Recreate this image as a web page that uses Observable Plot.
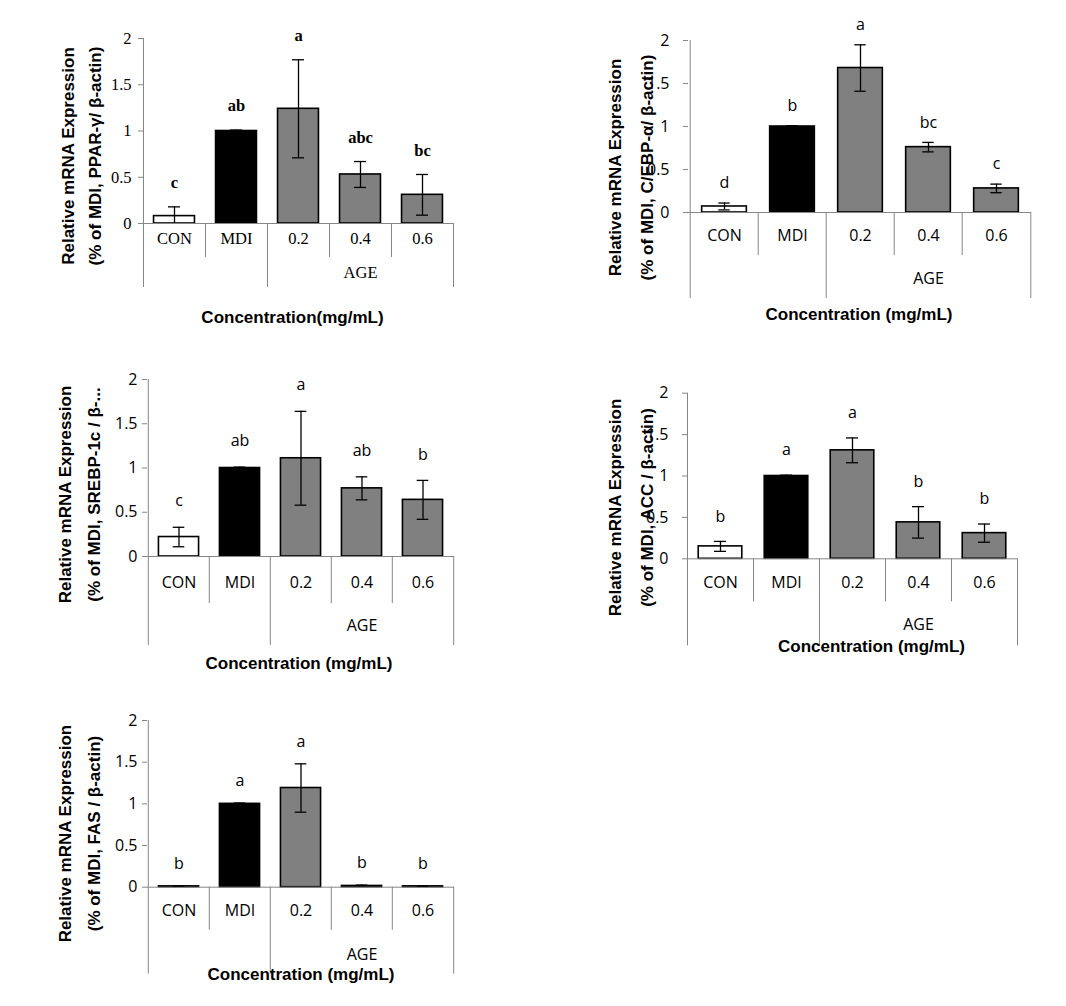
<!DOCTYPE html>
<html><head><meta charset="utf-8">
<script src="https://cdn.jsdelivr.net/npm/d3@7"></script>
<script src="https://cdn.jsdelivr.net/npm/@observablehq/plot@0.6"></script>
<style>
body{margin:0;background:#fff;}
#root{position:relative;width:1066px;height:1006px;background:#fff;}
.panel{position:absolute;}
</style></head><body><div id="root"></div>
<script>
// ---- data ----
const categories = ["CON", "MDI", "0.2", "0.4", "0.6"];
const groups = ["", "", "AGE", "AGE", "AGE"];
const treatment = ["control", "MDI", "AGE", "AGE", "AGE"];
const yTicks = [0, 0.5, 1, 1.5, 2];
const yTickLabels = ["0", "0.5", "1", "1.5", "2"];
const yTitleTop = "Relative mRNA Expression";

const pparMean = [0.08, 1.00, 1.24, 0.53, 0.31];
const pparErr = [0.10, 0.01, 0.53, 0.14, 0.22];
const pparLetters = ["c", "ab", "a", "abc", "bc"];

const cebpMean = [0.07, 1.00, 1.68, 0.76, 0.28];
const cebpErr = [0.04, 0.01, 0.27, 0.055, 0.05];
const cebpLetters = ["d", "b", "a", "bc", "c"];

const srebpMean = [0.22, 1.00, 1.11, 0.77, 0.64];
const srebpErr = [0.11, 0.01, 0.53, 0.13, 0.22];
const srebpLetters = ["c", "ab", "a", "ab", "b"];

const accMean = [0.15, 1.00, 1.31, 0.44, 0.31];
const accErr = [0.06, 0.01, 0.15, 0.19, 0.11];
const accLetters = ["b", "a", "a", "b", "b"];

const fasMean = [0.01, 1.00, 1.19, 0.015, 0.01];
const fasErr = [0.004, 0.01, 0.29, 0.01, 0.004];
const fasLetters = ["b", "a", "a", "b", "b"];

const yTitles = ["(% of MDI, PPAR-γ/ β-actin)", "(% of MDI, C/EBP-α/ β-actin)", "(% of MDI, SREBP-1c / β-...", "(% of MDI, ACC / β-actin)", "(% of MDI, FAS / β-actin)"];
const xTitles = ["Concentration(mg/mL)", "Concentration (mg/mL)", "Concentration (mg/mL)", "Concentration (mg/mL)", "Concentration (mg/mL)"];

const series = [
  [pparMean, pparErr, pparLetters],
  [cebpMean, cebpErr, cebpLetters],
  [srebpMean, srebpErr, srebpLetters],
  [accMean, accErr, accLetters],
  [fasMean, fasErr, fasLetters]
];

// ---- layout (positions / styles) ----
const SERIF = "'Liberation Serif', 'Times New Roman', serif";
const SANS = "'Open Sans', 'Noto Sans', sans-serif";
const BOLD = "'Liberation Sans', Arial, sans-serif";
const layouts = [
  {left: 0, top: 0, width: 520, height: 335, mt: 38, mb: 112, ml: 143, mr: 67, tier1: 34, tier2: 64, catDy: 20, groupDy: 54, titleDy: 99, titleDx: -6, ylDx: -65, ylDy: 25, ylLH: 1.6, tickPad: 7, letterDy: -24, font: SERIF, fs: 16.5, letterWeight: "bold"},
  {left: 560, top: 0, width: 500, height: 335, mt: 40, mb: 123, ml: 128, mr: 29, tier1: 43, tier2: 86, catDy: 28, groupDy: 71, titleDy: 107, titleDx: -1, ylDx: -62, ylDy: 41, ylLH: 1.9, tickPad: 14, letterDy: -20, font: SANS, fs: 16, letterWeight: "normal"},
  {left: 0, top: 340, width: 520, height: 340, mt: 39, mb: 124, ml: 147, mr: 66, tier1: 47, tier2: 89, catDy: 31, groupDy: 74, titleDy: 112, titleDx: -2, ylDx: -71, ylDy: 26.5, ylLH: 1.65, tickPad: 5, letterDy: -26, font: SANS, fs: 16, letterWeight: "normal"},
  {left: 560, top: 340, width: 500, height: 340, mt: 52.7, mb: 121.7, ml: 127, mr: 43, tier1: 43, tier2: 87, catDy: 29, groupDy: 71, titleDy: 93, titleDx: 19, ylDx: -61, ylDy: 31.5, ylLH: 1.9, tickPad: 14, letterDy: -25, font: SANS, fs: 16, letterWeight: "normal"},
  {left: 0, top: 680, width: 520, height: 326, mt: 40, mb: 119.3, ml: 147, mr: 66, tier1: 43, tier2: 87, catDy: 29, groupDy: 73, titleDy: 93, titleDx: 0, ylDx: -71, ylDy: 29.7, ylLH: 1.65, tickPad: 5, letterDy: -22, font: SANS, fs: 16, letterWeight: "normal"}
];

const AXIS = "#868686";
const root = document.getElementById("root");

series.forEach(([mean, err, letters], p) => {
  const L = layouts[p];
  const data = categories.map((c, i) => ({cat: c, mean: mean[i], err: err[i], letter: letters[i], fillKey: treatment[i]}));
  const bw = (L.width - L.ml - L.mr) / categories.length;
  const inset = bw * 0.17;
  const capW = 12;
  const longLeft = categories.filter((c, i) => i === 0 || groups[i] !== groups[i - 1]);
  const shortLeft = categories.filter((c, i) => i > 0 && groups[i] === groups[i - 1]);
  const groupNames = [...new Set(groups.filter(g => g))];
  const groupData = groupNames.map(g => {
    const cs = categories.filter((c, i) => groups[i] === g);
    return {name: g, cat: cs[Math.floor(cs.length / 2)]};
  });

  const chart = Plot.plot({
    width: L.width, height: L.height,
    marginTop: L.mt, marginBottom: L.mb, marginLeft: L.ml, marginRight: L.mr,
    style: {fontFamily: L.font, fontSize: L.fs + "px", background: "white", color: "black", overflow: "visible"},
    x: {type: "band", domain: categories, padding: 0, axis: null},
    y: {domain: [0, 2], axis: null},
    color: {domain: ["control", "MDI", "AGE"], range: ["white", "black", "#808080"]},
    marks: [
      // y axis line + tier dividers
      Plot.ruleX([categories[0]], {x: d => d, y1: 2, y2: 0, dx: -bw / 2, stroke: AXIS}),
      Plot.ruleX(longLeft, {x: d => d, y1: 0, y2: 0, dx: -bw / 2, insetBottom: -L.tier2, stroke: AXIS}),
      Plot.ruleX(shortLeft, {x: d => d, y1: 0, y2: 0, dx: -bw / 2, insetBottom: -L.tier1, stroke: AXIS}),
      Plot.ruleX([categories[categories.length - 1]], {x: d => d, y1: 0, y2: 0, dx: bw / 2, insetBottom: -L.tier2, stroke: AXIS}),
      Plot.axisY(yTicks, {tickFormat: d => yTickLabels[yTicks.indexOf(d)], tickSize: 5, tickPadding: L.tickPad, stroke: AXIS, fill: "black", fontSize: L.fs, fontFamily: L.font, label: null}),
      // bars
      Plot.barY(data, {x: "cat", y: "mean", fill: "fillKey", stroke: "black", strokeWidth: 1.6, insetLeft: inset, insetRight: inset}),
      Plot.ruleY([0], {stroke: AXIS}),
      // error bars
      Plot.ruleX(data, {x: "cat", y1: d => Math.max(0, d.mean - d.err), y2: d => d.mean + d.err, stroke: "black", strokeWidth: 1.3}),
      Plot.tickY(data, {x: "cat", y: d => d.mean + d.err, stroke: "black", strokeWidth: 1.3, insetLeft: (bw - capW) / 2, insetRight: (bw - capW) / 2}),
      Plot.tickY(data.filter(d => d.mean - d.err > 0.02), {x: "cat", y: d => d.mean - d.err, stroke: "black", strokeWidth: 1.3, insetLeft: (bw - capW) / 2, insetRight: (bw - capW) / 2}),
      // significance letters
      Plot.text(data, {x: "cat", y: d => d.mean + d.err, text: "letter", dy: L.letterDy, fontSize: L.fs, fontWeight: L.letterWeight, fontFamily: L.font, fill: "black"}),
      // category labels
      Plot.text(data, {x: "cat", text: "cat", frameAnchor: "bottom", dy: L.catDy, fontSize: L.fs, fontFamily: L.font, fill: "black"}),
      Plot.text(groupData, {x: "cat", text: "name", frameAnchor: "bottom", dy: L.groupDy, fontSize: L.fs, fontFamily: L.font, fill: "black"}),
      // titles
      Plot.text([xTitles[p]], {text: d => d, frameAnchor: "bottom", dy: L.titleDy, dx: L.titleDx, fontSize: 17, fontWeight: "bold", fontFamily: BOLD, fill: "black"}),
      Plot.text([yTitleTop + "\n" + yTitles[p]], {text: d => d, frameAnchor: "left", textAnchor: "middle", lineAnchor: "middle", rotate: -90, dx: L.ylDx, dy: L.ylDy, lineHeight: L.ylLH, fontSize: 17, fontWeight: "bold", fontFamily: BOLD, fill: "black"})
    ]
  });
  const div = document.createElement("div");
  div.className = "panel";
  div.style.left = L.left + "px";
  div.style.top = L.top + "px";
  div.appendChild(chart);
  root.appendChild(div);
});
</script>
</body></html>
